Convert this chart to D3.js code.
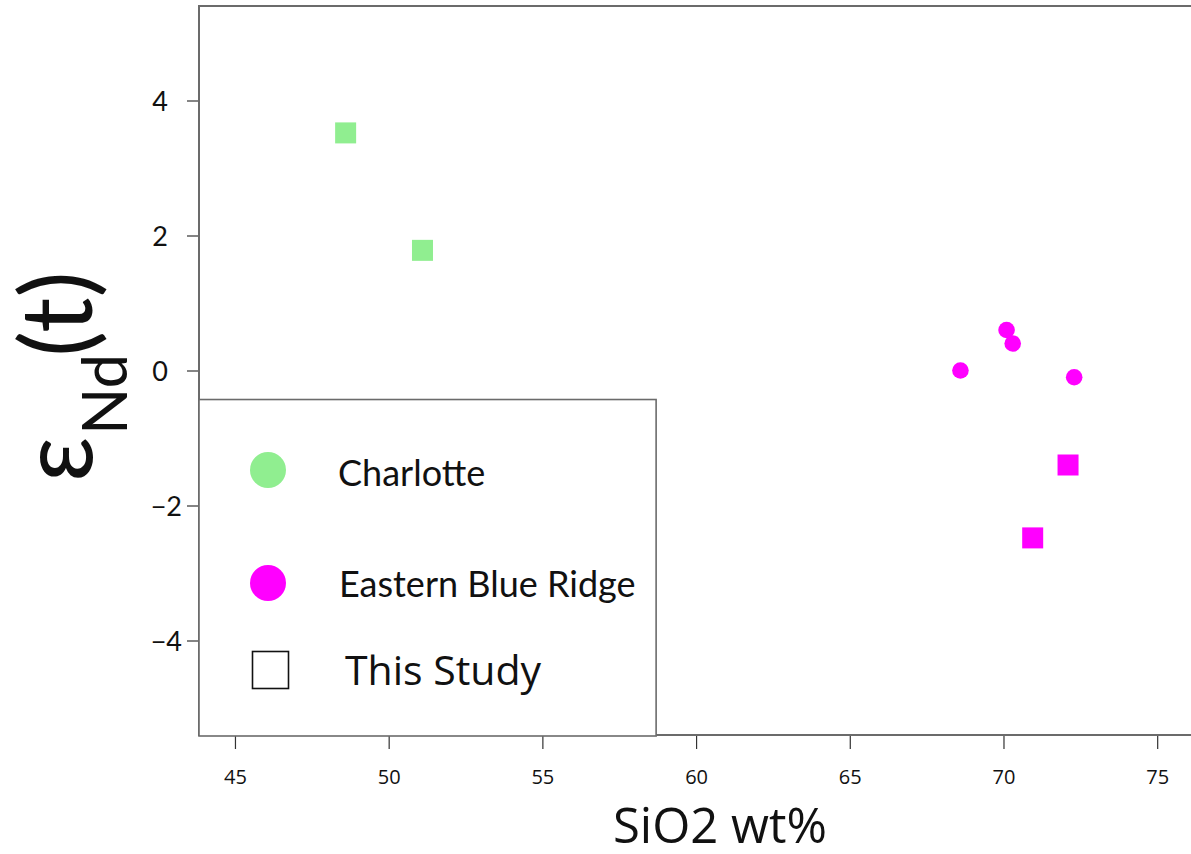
<!DOCTYPE html>
<html>
<head>
<meta charset="utf-8">
<script src="https://cdn.jsdelivr.net/npm/d3@7"></script>
<style>
  html, body { margin: 0; padding: 0; background: #fff; }
  svg { display: block; }
</style>
</head>
<body>
<svg id="chart" width="1191" height="854"></svg>
<script>
// Groups and colours
const groups = ["Charlotte", "Eastern Blue Ridge"];
const groupColors = ["#90ee90", "#ff00ff"];

// This study (squares)
const studyGroup = ["Charlotte", "Charlotte", "Eastern Blue Ridge", "Eastern Blue Ridge"];
const studySiO2 = [48.6, 51.1, 72.1, 70.95];
const studyEpsNd = [3.52, 1.78, -1.40, -2.48];

// Eastern Blue Ridge literature data (circles)
const ebrSiO2 = [70.1, 70.3, 68.6, 72.3];
const ebrEpsNd = [0.60, 0.40, 0.00, -0.10];

// Axis ticks
const xTicks = [45, 50, 55, 60, 65, 70, 75];
const yTicks = [-4, -2, 0, 2, 4];

const svg = d3.select("#chart");
const margin = { left: 199, top: 6, right: 0, bottom: 119 };
const W = 1191, H = 854;

const x = d3.scaleLinear().domain([43.83, 76.1]).range([margin.left, W - margin.right]);
const y = d3.scaleLinear().domain([-5.4, 5.4]).range([H - margin.bottom, margin.top]);
const color = d3.scaleOrdinal().domain(groups).range(groupColors);

const frameColor = "#6b6b6b";
const x0 = x.range()[0], x1 = x.range()[1];
const y0 = y.range()[0], y1 = y.range()[1];

// X axis ticks and labels
const xAxis = d3.axisBottom(x).tickValues(xTicks).tickSize(14).tickPadding(21)
  .tickFormat(d3.format("d"));
const gx = svg.append("g").attr("transform", `translate(0,${y0})`).call(xAxis);
gx.select(".domain").remove();
gx.selectAll(".tick line").attr("stroke", "#333").attr("stroke-width", 1.2);
gx.selectAll(".tick text")
  .attr("fill", "#111")
  .style("font-family", "'Open Sans', sans-serif")
  .style("font-size", "20px");

// Y axis ticks and labels
const yAxis = d3.axisLeft(y).tickValues(yTicks).tickSize(12)
  .tickFormat(d => d < 0 ? "\u2212" + Math.abs(d) : String(d));
const gy = svg.append("g").attr("transform", `translate(${x0},0)`).call(yAxis);
gy.select(".domain").remove();
gy.selectAll(".tick line").attr("stroke", "#333").attr("stroke-width", 1.2);
gy.selectAll(".tick text")
  .attr("fill", "#111")
  .attr("x", d => d < 0 ? -17 : -31)
  .attr("dy", "0.36em")
  .style("font-family", "Lato, sans-serif")
  .style("font-size", "27px");

// Plot frame (left, top, bottom)
svg.append("path")
  .attr("d", `M${x1 + 2},${y1}H${x0}V${y0}H${x1 + 2}`)
  .attr("fill", "none")
  .attr("stroke", frameColor)
  .attr("stroke-width", 2);

// Literature circles
svg.append("g").selectAll("circle")
  .data(d3.range(ebrSiO2.length))
  .join("circle")
  .attr("cx", i => x(ebrSiO2[i]))
  .attr("cy", i => y(ebrEpsNd[i]))
  .attr("r", 8.3)
  .attr("fill", color("Eastern Blue Ridge"));

// This-study squares
const sq = 21;
svg.append("g").selectAll("rect")
  .data(d3.range(studySiO2.length))
  .join("rect")
  .attr("x", i => x(studySiO2[i]) - sq / 2)
  .attr("y", i => y(studyEpsNd[i]) - sq / 2)
  .attr("width", sq)
  .attr("height", sq)
  .attr("fill", i => color(studyGroup[i]));

// Legend box
const legendRight = 58.7, legendTop = -0.43;
const lg = svg.append("g");
lg.append("rect")
  .attr("x", x0)
  .attr("y", y(legendTop))
  .attr("width", x(legendRight) - x0)
  .attr("height", y0 - y(legendTop) + 1)
  .attr("fill", "#fff")
  .attr("stroke", frameColor)
  .attr("stroke-width", 1.6);

const legendItems = [
  { label: "Charlotte", kind: "circle", color: color("Charlotte"), cy: 470, ty: 486, tx: 338, font: "Lato", size: 36 },
  { label: "Eastern Blue Ridge", kind: "circle", color: color("Eastern Blue Ridge"), cy: 583, ty: 597, tx: 339, font: "Lato", size: 36 },
  { label: "This Study", kind: "square", color: "none", cy: 670, ty: 685, tx: 345, font: "'Open Sans'", size: 41 }
];
legendItems.forEach(it => {
  if (it.kind === "circle") {
    lg.append("circle").attr("cx", 268).attr("cy", it.cy).attr("r", 18).attr("fill", it.color);
  } else {
    lg.append("rect").attr("x", 252.5).attr("y", it.cy - 18.5).attr("width", 36).attr("height", 37)
      .attr("fill", "#fff").attr("stroke", "#111").attr("stroke-width", 1.6);
  }
  lg.append("text")
    .attr("x", it.tx).attr("y", it.ty)
    .attr("fill", "#111")
    .style("font-family", it.font + ", sans-serif")
    .style("font-size", it.size + "px")
    .text(it.label);
});

// X axis title
svg.append("text")
  .attr("x", 720).attr("y", 843)
  .attr("text-anchor", "middle")
  .attr("fill", "#111")
  .style("font-family", "'Open Sans', sans-serif")
  .style("font-size", "49px")
  .text("SiO2 wt%");

// Y axis title: εNd(t)
const yt = svg.append("text")
  .attr("transform", "translate(92,482) rotate(-90)")
  .attr("fill", "#111")
  .style("font-family", "Lato, sans-serif");
yt.append("tspan").style("font-size", "100px").text("\u03b5");
yt.append("tspan").attr("x", 47).attr("dy", 35).style("font-size", "62px").text("Nd");
yt.append("tspan").attr("x", 125).attr("dy", -35).style("font-size", "98px").text("(t)");
</script>
</body>
</html>
